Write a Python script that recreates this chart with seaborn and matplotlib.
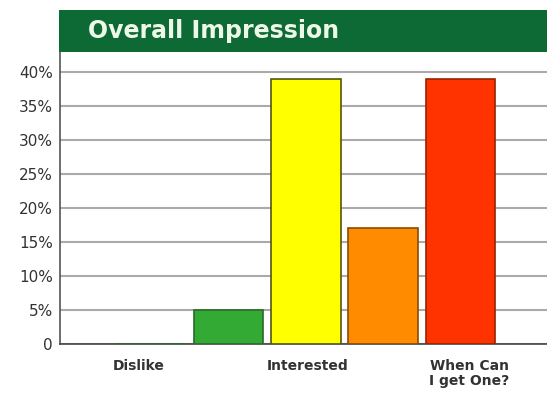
import matplotlib
matplotlib.use("Agg")
import matplotlib.pyplot as plt
import matplotlib.transforms as mtransforms
import seaborn as sns
import pandas as pd
from matplotlib.patches import Rectangle

categories = ["c1", "c2", "c3", "c4", "c5"]
values = [0.0, 5.0, 39.0, 17.0, 39.0]
tick_labels = ["Dislike", "", "Interested", "", "When Can\nI get One?"]
y_ticks = [0, 5, 10, 15, 20, 25, 30, 35, 40]
y_tick_labels = ["0", "5%", "10%", "15%", "20%", "25%", "30%", "35%", "40%"]
bar_colors = ["#33aa33", "#33aa33", "#ffff00", "#ff8c00", "#ff3300"]
edge_colors = ["#2a6a2a", "#2a6a2a", "#55550a", "#8a4a00", "#9a2200"]
title = "Overall Impression"

sns.set_theme(style="white")
plt.rcParams["font.family"] = ["DejaVu Sans"]

df = pd.DataFrame({"cat": categories, "val": values})

fig = plt.figure(figsize=(5.47, 3.93), dpi=100)
ax = fig.add_axes([60/547, 49/393, 1 - 60/547, (344-52)/393])

sns.barplot(data=df, x="cat", y="val", order=categories, hue="cat",
            palette=bar_colors, saturation=1, legend=False, width=0.9,
            ax=ax, zorder=3)
for p, ec in zip(ax.patches, edge_colors):
    p.set_edgecolor(ec)
    p.set_linewidth(1.2)

ax.set_ylim(0, 42.9)
ax.set_xlim(-1.18, 5.12)
ax.set_yticks(y_ticks)
ax.set_yticklabels(y_tick_labels, fontsize=11, color="#333333")
ax.set_xticks(range(len(categories)))
ax.set_xticklabels(tick_labels, fontsize=10, fontweight="bold", color="#333333",
                   linespacing=1.05)
ax.tick_params(axis="both", length=0, pad=5)
ax.tick_params(axis="x", pad=11)
ax.set_xlabel("")
ax.set_ylabel("")
ax.yaxis.grid(True, color="#aaaaaa", linewidth=1.5, zorder=0)
ax.set_axisbelow(True)
for s in ["top", "right"]:
    ax.spines[s].set_visible(False)
ax.spines["left"].set_color("#555555")
ax.spines["bottom"].set_color("#444444")
ax.spines["left"].set_linewidth(1.2)
ax.spines["bottom"].set_linewidth(1.2)

# small horizontal nudges of the category labels, as in the original
shifts_px = [-13, 0, 2, 0, 9]
for lbl, dx in zip(ax.get_xticklabels(), shifts_px):
    lbl.set_transform(lbl.get_transform() +
                      mtransforms.ScaledTranslation(dx / 100, 0, fig.dpi_scale_trans))

banner = Rectangle((59/547, 1 - 52/393), 1 - 59/547, 42/393,
                   transform=fig.transFigure, facecolor="#0e6a35",
                   edgecolor="none", zorder=5)
fig.patches.append(banner)
fig.text(88/547, 1 - 31/393, title, transform=fig.transFigure,
         fontsize=17, fontweight="bold", color="#eef8e8",
         ha="left", va="center", zorder=6)

fig.savefig("out.png", dpi=100)
